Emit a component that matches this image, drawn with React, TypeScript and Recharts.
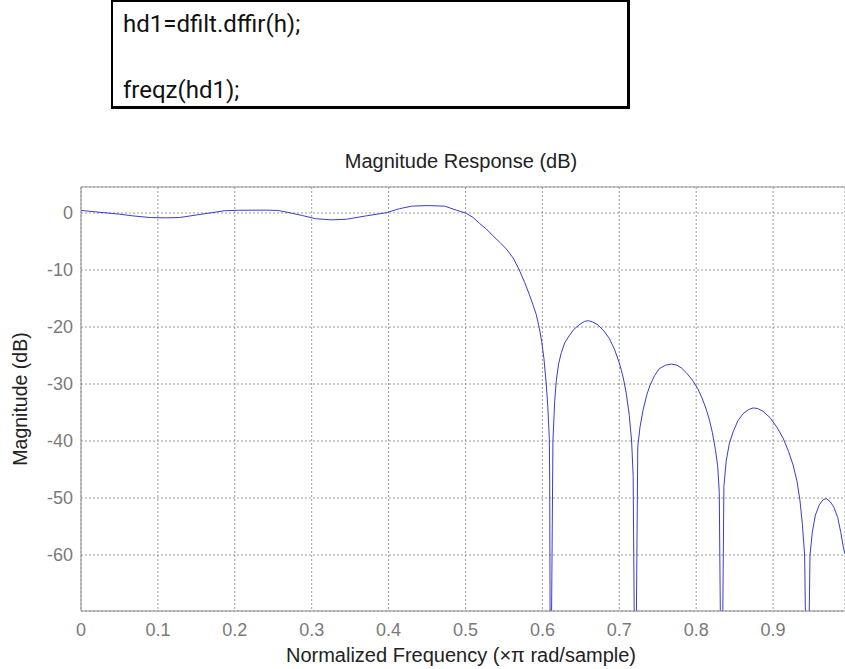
import React from 'react';
import { LineChart, Line, XAxis, YAxis, CartesianGrid, ReferenceLine } from 'recharts';

// normalized frequency (x pi rad/sample) and magnitude (dB)
const freq = [
  0, 0.026, 0.05, 0.067, 0.09, 0.11, 0.128, 0.15, 0.17, 0.187, 0.205, 0.24, 0.256, 0.271, 0.288,
  0.305, 0.325, 0.345, 0.371, 0.397, 0.414, 0.43, 0.45, 0.473, 0.488, 0.501,
  0.51, 0.518, 0.527, 0.535, 0.545, 0.553, 0.562, 0.57, 0.577, 0.583, 0.588, 0.592, 0.596,
  0.599, 0.602, 0.605, 0.607, 0.609, 0.6095, 0.6105,
  0.6137, 0.616, 0.618, 0.621, 0.6246, 0.629, 0.635, 0.641, 0.648, 0.655, 0.66, 0.665, 0.672,
  0.68, 0.687, 0.694, 0.7, 0.705, 0.709, 0.713, 0.716, 0.718, 0.7208,
  0.724, 0.727, 0.731, 0.736, 0.74, 0.746, 0.752, 0.76, 0.768, 0.775, 0.781, 0.787, 0.795,
  0.802, 0.808, 0.813, 0.817, 0.821, 0.825, 0.828, 0.83, 0.833,
  0.836, 0.839, 0.843, 0.848, 0.854, 0.861, 0.868, 0.874, 0.88, 0.887, 0.896, 0.905, 0.913,
  0.92, 0.926, 0.931, 0.935, 0.938, 0.941, 0.9445,
  0.948, 0.951, 0.955, 0.96, 0.965, 0.969, 0.974, 0.979, 0.984, 0.988, 0.9915, 0.9935,
];
const magDb = [
  0.45, 0.1, -0.2, -0.5, -0.8, -0.85, -0.8, -0.35, 0.05, 0.4, 0.48, 0.5, 0.45, 0.05, -0.45,
  -1.0, -1.2, -1.1, -0.5, 0.05, 0.75, 1.2, 1.3, 1.2, 0.5, -0.05,
  -0.8, -1.8, -2.8, -3.9, -5.2, -6.3, -7.9, -10, -12.2, -14.3, -16.2, -17.8, -20.2,
  -22.5, -25.5, -30, -34, -39.5, -47, -95,
  -40, -33, -29.5, -26.5, -24.5, -22.8, -21.5, -20.4, -19.6, -19.0, -18.9, -19.1, -19.6,
  -20.7, -22.0, -24.0, -26.3, -28.8, -31.6, -35.5, -40, -46, -95,
  -41, -37.5, -34.5, -31.8, -30.2, -28.5, -27.3, -26.7, -26.5, -26.7, -27.2, -28.0, -29.3,
  -30.8, -32.6, -34.4, -36.2, -38.5, -41.5, -44.5, -49, -95,
  -48, -43.5, -40.5, -38.4, -36.5, -35.2, -34.5, -34.2, -34.3, -34.8, -35.9, -37.6, -39.5,
  -41.8, -44.2, -47, -50.5, -54.5, -60, -95,
  -60, -56, -53, -51.2, -50.3, -50.1, -50.6, -51.6, -53.4, -56, -58.8, -59.8,
];

const xTicks = [0, 0.1, 0.2, 0.3, 0.4, 0.5, 0.6, 0.7, 0.8, 0.9];
const yTicks = [0, -10, -20, -30, -40, -50, -60];
const xLimits = [0, 0.9935];
const yLimits = [-69.82, 4.56];

const codeLines = ['hd1=dfilt.dffir(h);', 'freqz(hd1);'];

const data = freq.map((f, i) => ({ f, db: magDb[i] }));

const tickStyle = { fill: '#7a7a7a', fontSize: 18, fontFamily: 'Liberation Sans, Arial, sans-serif' };
const labelFont = 'Liberation Sans, Arial, sans-serif';

export default function App() {
  return (
    <div style={{ position: 'absolute', left: 0, top: 0, width: 845, height: 669, background: '#fff', overflow: 'hidden' }}>
      <LineChart
        width={845}
        height={669}
        data={data}
        margin={{ top: 187, right: 0, bottom: 0, left: 0 }}
      >
        <CartesianGrid stroke="#9a9a9a" strokeDasharray="2 2" />
        <XAxis
          dataKey="f"
          type="number"
          domain={xLimits}
          ticks={xTicks}
          allowDataOverflow
          height={58}
          tickLine={false}
          tickMargin={6}
          stroke="#8c8c8c"
          tick={tickStyle}
          tickFormatter={(v: number) => String(v)}
        />
        <YAxis
          type="number"
          domain={yLimits}
          ticks={yTicks}
          allowDataOverflow
          width={81}
          tickLine={false}
          stroke="#8c8c8c"
          tick={tickStyle}
        />
        <ReferenceLine y={yLimits[1]} stroke="#9a9a9a" strokeWidth={1} />
        <Line
          dataKey="db"
          type="linear"
          stroke="#3c3cc8"
          strokeWidth={1}
          dot={false}
          isAnimationActive={false}
        />
      </LineChart>

      <svg
        width={845}
        height={669}
        style={{ position: 'absolute', left: 0, top: 0, pointerEvents: 'none' }}
      >
        {/* code snippet box */}
        <line x1={112} y1={0} x2={112} y2={109} stroke="#000" strokeWidth={2} />
        <line x1={111} y1={1} x2={630} y2={1} stroke="#000" strokeWidth={2} />
        <line x1={628.5} y1={0} x2={628.5} y2={109} stroke="#000" strokeWidth={3} />
        <line x1={111} y1={107.5} x2={630} y2={107.5} stroke="#000" strokeWidth={3} />
        <text x={123} y={32} fontFamily="Roboto, sans-serif" fontSize={24} fill="#111">{codeLines[0]}</text>
        <text x={123} y={98} fontFamily="Roboto, sans-serif" fontSize={24} fill="#111">{codeLines[1]}</text>

        <text x={461} y={168} textAnchor="middle" fontFamily={labelFont} fontSize={20} fill="#222">
          Magnitude Response (dB)
        </text>
        <text x={461} y={662} textAnchor="middle" fontFamily={labelFont} fontSize={20} fill="#222">
          Normalized Frequency (×π rad/sample)
        </text>
        <text
          x={27}
          y={399}
          textAnchor="middle"
          transform="rotate(-90 27 399)"
          fontFamily={labelFont}
          fontSize={19.5}
          fill="#222"
        >
          Magnitude (dB)
        </text>
      </svg>
    </div>
  );
}
